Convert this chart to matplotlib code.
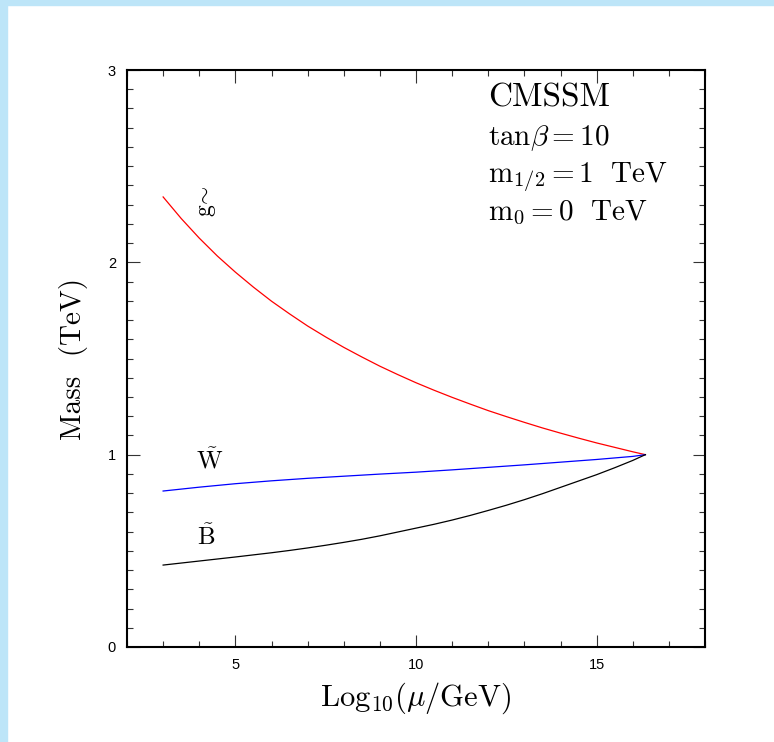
import matplotlib
matplotlib.use("Agg")
import matplotlib.pyplot as plt
from matplotlib.patches import Rectangle
from matplotlib.ticker import MultipleLocator

plt.rcParams['mathtext.fontset'] = 'cm'
plt.rcParams['font.family'] = 'DejaVu Sans'

# Data (x = log10(mu/GeV), y = mass in TeV)
gluino_x = [3.0, 3.5, 4.0, 4.5, 5.0, 5.5, 6.0, 6.5, 7.0, 7.5, 8.0, 8.5, 9.0, 9.5, 10.0,
            10.5, 11.0, 11.5, 12.0, 12.5, 13.0, 13.5, 14.0, 14.5, 15.0, 15.5, 16.0, 16.35]
gluino_y = [2.34, 2.228, 2.126, 2.033, 1.949, 1.871, 1.798, 1.732, 1.669, 1.612, 1.558, 1.508, 1.46,
            1.416, 1.374, 1.335, 1.298, 1.263, 1.229, 1.198, 1.168, 1.139, 1.112, 1.086, 1.061, 1.038, 1.015, 1.0]
wino_x = [3.0, 4.0, 5.0, 6.0, 7.0, 8.0, 9.0, 10.0, 11.0, 12.0, 13.0, 14.0, 15.0, 16.0, 16.35]
wino_y = [0.811, 0.831, 0.849, 0.864, 0.877, 0.888, 0.899, 0.909, 0.921, 0.934, 0.947, 0.961, 0.975, 0.991, 1.0]
bino_x = [3.0, 4.0, 5.0, 6.0, 6.5, 7.0, 7.5, 8.0, 8.5, 9.0, 9.5, 10.0, 10.5, 11.0, 11.5,
          12.0, 12.5, 13.0, 13.5, 14.0, 14.5, 15.0, 15.5, 16.0, 16.35]
bino_y = [0.426, 0.447, 0.468, 0.49, 0.502, 0.515, 0.529, 0.544, 0.56, 0.578, 0.598, 0.618, 0.638,
          0.66, 0.684, 0.71, 0.737, 0.766, 0.797, 0.83, 0.863, 0.896, 0.932, 0.97, 1.0]

xticks = [5, 10, 15]
yticks = [0, 1, 2, 3]
info_lines = ["CMSSM", r"$\mathrm{tan}\beta=10$", r"$\mathrm{m}_{1/2}=1\ \ \mathrm{TeV}$", r"$\mathrm{m}_{0}=0\ \ \mathrm{TeV}$"]

W, H = 774, 742
fig = plt.figure(figsize=(W / 100, H / 100), dpi=100)
fig.patch.set_facecolor('white')
# light-blue slide frame
fig.patches.append(Rectangle((0, 0), 7 / W, 1, transform=fig.transFigure, color='#bde5f8', zorder=0))
fig.patches.append(Rectangle((0, 1 - 5 / H), 1, 5 / H, transform=fig.transFigure, color='#bde5f8', zorder=0))

ax = fig.add_axes([127 / W, 1 - 647 / H, (705 - 127) / W, (647 - 70) / H])
ax.plot(gluino_x, gluino_y, color='red', lw=0.9)
ax.plot(wino_x, wino_y, color='blue', lw=0.9)
ax.plot(bino_x, bino_y, color='black', lw=0.9)

ax.set_xlim(2, 18)
ax.set_ylim(0, 3)
ax.set_xticks(xticks)
ax.set_yticks(yticks)
ax.xaxis.set_minor_locator(MultipleLocator(1))
ax.yaxis.set_minor_locator(MultipleLocator(0.1))
ax.tick_params(which='both', direction='in', top=True, right=True, width=0.8, colors='#333333', labelcolor='black')
ax.tick_params(which='major', length=9, labelsize=10.5, pad=8)
ax.tick_params(which='minor', length=4.5)
for lab in ax.get_xticklabels() + ax.get_yticklabels():
    lab.set_family('Liberation Sans')
for s in ax.spines.values():
    s.set_linewidth(1.5)

ax.set_xlabel(r"$\mathrm{Log}_{10}(\mu/\mathrm{GeV})$", fontsize=22, labelpad=6)
ax.set_ylabel("Mass  (TeV)", fontsize=21, family='cmr10', labelpad=14)

ax.text(4.2, 2.32, r"$\mathrm{g}\!\sim$", fontsize=17, ha='center', va='center', rotation=90)
ax.text(4.3, 0.97, r"$\tilde{\mathrm{W}}$", fontsize=18, ha='center', va='center')
ax.text(4.2, 0.57, r"$\tilde{\mathrm{B}}$", fontsize=18, ha='center', va='center')

ys = [2.81, 2.61, 2.41, 2.22]
sizes = [24, 21, 21, 21]
for t, yv, fs in zip(info_lines, ys, sizes):
    if t == "CMSSM":
        ax.text(12.0, yv, t, fontsize=fs, family='cmr10', ha='left', va='baseline')
    else:
        ax.text(12.0, yv, t, fontsize=fs, ha='left', va='baseline')

fig.savefig("out.png", dpi=100)
